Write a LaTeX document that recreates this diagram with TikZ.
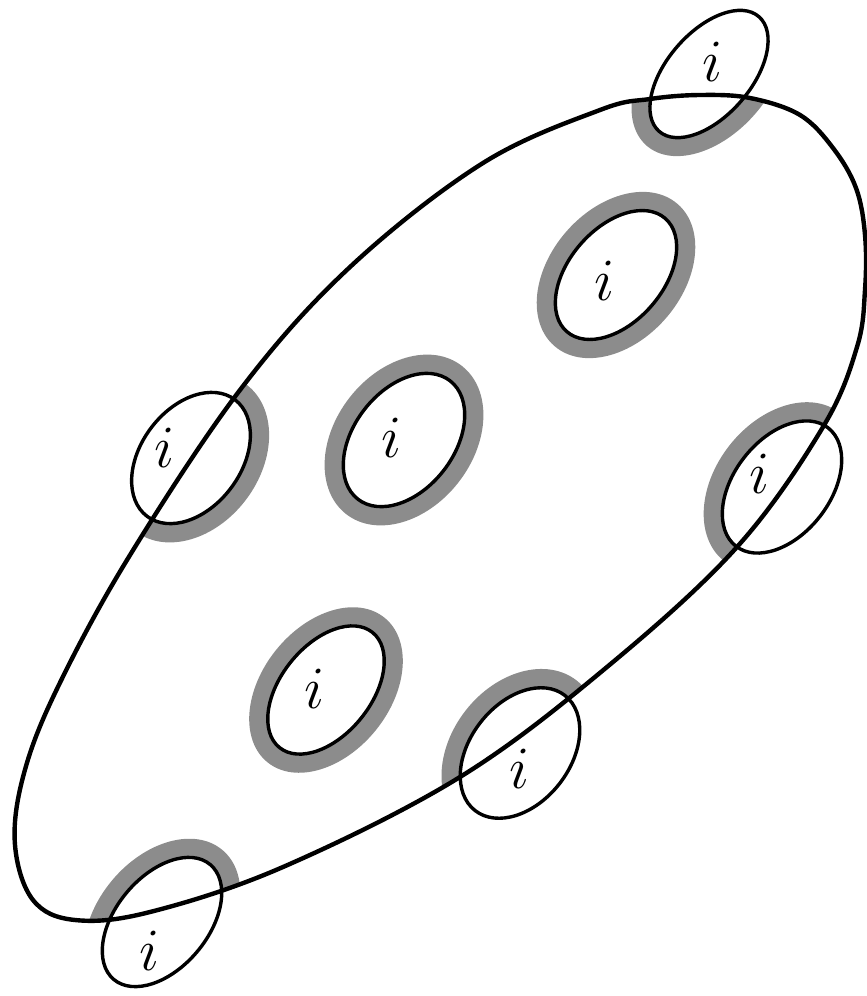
\RequirePackage{fix-cm}
\documentclass[tikz,border=0pt]{standalone}
\tikzset{
  bigline/.style={line width=4.4pt, black, line join=round},
  smallline/.style={line width=3.4pt, black},
  halo/.style={fill=black!45},
  lbl/.style={inner sep=0pt, font=\fontsize{60}{60}\selectfont}
}
\begin{document}
\begin{tikzpicture}[x=1pt, y=-1pt]
\useasboundingbox (0,0) rectangle (867,996);
% halos, only inside the big curve
\begin{scope}
\clip plot[smooth cycle, tension=0.6] coordinates {
 (600,110) (650,99) (700,95) (750,98) (800,115) (833,148) (856,188) (865,235)
 (865,290) (857,347) (823,427)
 (737,547) (607,667) (460,777) (283,867) (150,912) (75,920) (33,900)
 (15,845) (23,777) (55,693) (127,560) (240,390) (350,267) (483,163)};
\foreach \cx/\cy/\rx/\ry/\rt in {709/74/76/42/49, 616/275/75/47/49, 404/440/75/50/52,
  326/690/74/45/51, 191/458/73/50/53, 782/487/75/48/52, 520/753/73/50/52, 162/922/75/46/50}
  \fill[halo, rotate around={\rt:(\cx,\cy)}] (\cx,\cy) ellipse [x radius=\rx+19, y radius=\ry+19];
\end{scope}
% white interiors of the small ellipses
\foreach \cx/\cy/\rx/\ry/\rt in {709/74/76/42/49, 616/275/75/47/49, 404/440/75/50/52,
  326/690/74/45/51, 191/458/73/50/53, 782/487/75/48/52, 520/753/73/50/52, 162/922/75/46/50}
  \fill[white, rotate around={\rt:(\cx,\cy)}] (\cx,\cy) ellipse [x radius=\rx, y radius=\ry];
% the big curve
\draw[bigline] plot[smooth cycle, tension=0.6] coordinates {
 (600,110) (650,99) (700,95) (750,98) (800,115) (833,148) (856,188) (865,235)
 (865,290) (857,347) (823,427)
 (737,547) (607,667) (460,777) (283,867) (150,912) (75,920) (33,900)
 (15,845) (23,777) (55,693) (127,560) (240,390) (350,267) (483,163)};
% small ellipse outlines
\foreach \cx/\cy/\rx/\ry/\rt in {709/74/76/42/49, 616/275/75/47/49, 404/440/75/50/52,
  326/690/74/45/51, 191/458/73/50/53, 782/487/75/48/52, 520/753/73/50/52, 162/922/75/46/50}
  \draw[smallline, rotate around={\rt:(\cx,\cy)}] (\cx,\cy) ellipse [x radius=\rx, y radius=\ry];
% labels
\node[lbl] (iT) at (713,62) {$i$};
\node[lbl] (iA) at (605,281) {$i$};
\node[lbl] (iB) at (392,438) {$i$};
\node[lbl] (iC) at (315,689) {$i$};
\node[lbl] (iL) at (165,448) {$i$};
\node[lbl] (iR) at (760,474) {$i$};
\node[lbl] (iM) at (520,769) {$i$};
\node[lbl] (iBL) at (150,951) {$i$};
\end{tikzpicture}
\end{document}
